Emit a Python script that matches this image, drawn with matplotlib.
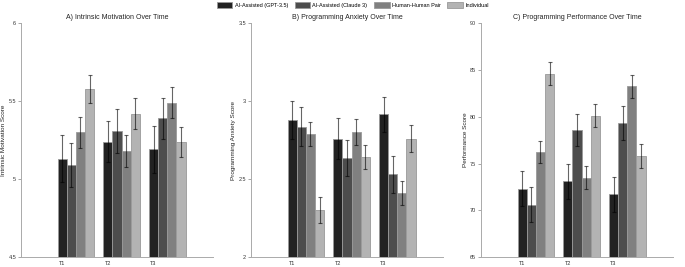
import numpy as np
import matplotlib
matplotlib.use('Agg')
import matplotlib.pyplot as plt
from matplotlib.ticker import FuncFormatter

plt.rcParams['font.family'] = ['Liberation Sans', 'DejaVu Sans']

# data
times = ['T1', 'T2', 'T3']
groups = ['AI-Assisted (GPT-3.5)', 'AI-Assisted (Claude 3)', 'Human-Human Pair', 'Individual']
colors = ['#222222', '#4d4d4d', '#808080', '#b3b3b3']

motivation = [[5.13, 5.24, 5.19],
              [5.09, 5.31, 5.39],
              [5.30, 5.18, 5.49],
              [5.58, 5.42, 5.24]]
motivation_err = [[0.15, 0.13, 0.15],
                  [0.14, 0.14, 0.13],
                  [0.10, 0.10, 0.10],
                  [0.09, 0.10, 0.095]]

anxiety = [[2.88, 2.76, 2.915],
           [2.835, 2.635, 2.53],
           [2.79, 2.80, 2.41],
           [2.30, 2.64, 2.76]]
anxiety_err = [[0.12, 0.13, 0.115],
               [0.125, 0.115, 0.12],
               [0.076, 0.083, 0.076],
               [0.082, 0.077, 0.085]]

performance = [[72.3, 73.1, 71.7],
               [70.6, 78.6, 79.35],
               [76.25, 73.5, 83.25],
               [84.6, 80.1, 75.8]]
performance_err = [[1.85, 1.9, 1.87],
                   [1.9, 1.75, 1.8],
                   [1.2, 1.27, 1.2],
                   [1.23, 1.23, 1.27]]

panels = [
    ('A) Intrinsic Motivation Over Time', 'Intrinsic Motivation Score', motivation, motivation_err, (4.5, 6), 0.5),
    ('B) Programming Anxiety Over Time', 'Programming Anxiety Score', anxiety, anxiety_err, (2, 3.5), 0.5),
    ('C) Programming Performance Over Time', 'Performance Score', performance, performance_err, (65, 90), 5),
]

fig = plt.figure(figsize=(6.85, 2.67), dpi=100)
lefts = [21, 251, 481]
x = np.arange(len(times))
w = 0.2
handles = []
for k, (title, ylabel, vals, errs, ylim, step) in enumerate(panels):
    ax = fig.add_axes([lefts[k] / 685, 10 / 267, 192 / 685, 233.7 / 267])
    for j in range(len(groups)):
        b = ax.bar(x + j * w, vals[j], w, yerr=errs[j], color=colors[j],
                   edgecolor='#999999', linewidth=0.6, label=groups[j],
                   error_kw=dict(ecolor=(0, 0, 0, 0.6), elinewidth=0.8,
                                 capsize=1.6, capthick=0.8))
        if k == 0:
            handles.append(b)
    ax.set_xlim(-0.9, 3.3)
    ax.set_ylim(*ylim)
    ax.set_yticks(np.arange(ylim[0], ylim[1] + step / 2, step))
    ax.yaxis.set_major_formatter(FuncFormatter(lambda v, p: '%g' % v))
    ax.set_xticks(x)
    ax.set_xticklabels(times)
    ax.set_title(title, fontsize=5.0, pad=3, color='#222222')
    ax.set_ylabel(ylabel, fontsize=4.6, labelpad=1.5, color='#222222')
    ax.tick_params(axis='y', length=2, width=0.6, color='#999999', labelsize=4.0, pad=1.5, labelcolor='#333333')
    ax.tick_params(axis='x', length=0, labelsize=4.0, pad=3, labelcolor='#333333')
    for s in ['top', 'right']:
        ax.spines[s].set_visible(False)
    for s in ['left', 'bottom']:
        ax.spines[s].set_color('#aaaaaa')
        ax.spines[s].set_linewidth(0.7)

fig.legend(handles, groups, loc='upper center', bbox_to_anchor=(0.515, 1.01), ncol=4,
           fontsize=4.0, frameon=False, handlelength=2.8, handleheight=1.1,
           columnspacing=1.2, handletextpad=0.4)

fig.savefig('out.png', dpi=100)
